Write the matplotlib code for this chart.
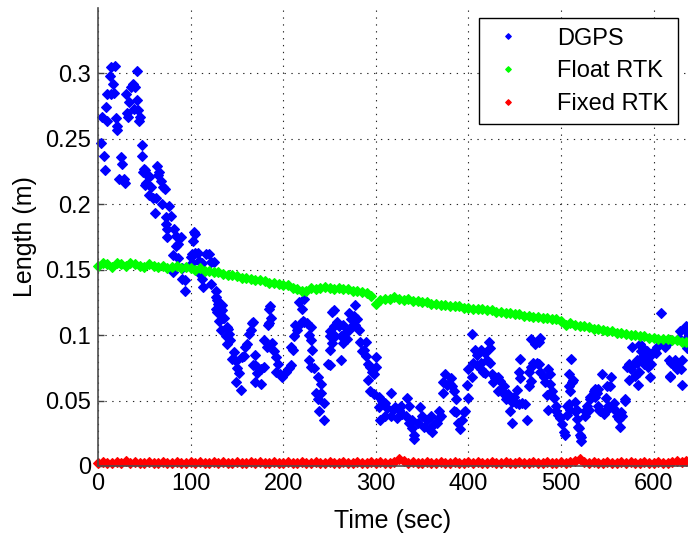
import numpy as np
import matplotlib
matplotlib.use("Agg")
import matplotlib.pyplot as plt

plt.rcParams['font.family'] = ['Liberation Sans', 'DejaVu Sans']

# DGPS samples (time s, length m)
dgps = [
    (3, 0.247), (4, 0.267), (7, 0.237), (8, 0.226), (9, 0.274), (10, 0.264), (10, 0.284), (13, 0.298),
    (14, 0.305), (14, 0.284), (16, 0.292), (17, 0.285), (18, 0.306), (19, 0.266), (20, 0.260), (21, 0.257),
    (23, 0.219), (25, 0.236), (26, 0.231), (28, 0.219), (29, 0.216), (30, 0.284), (31, 0.270), (32, 0.267),
    (34, 0.278), (36, 0.290), (38, 0.292), (39, 0.273), (40, 0.290), (42, 0.302), (42, 0.280), (43, 0.272),
    (44, 0.264), (45, 0.267), (47, 0.237), (48, 0.245), (49, 0.225), (50, 0.227), (51, 0.215), (51, 0.226),
    (52, 0.216), (54, 0.222), (55, 0.221), (55, 0.207), (57, 0.213), (59, 0.205), (62, 0.193), (63, 0.205),
    (64, 0.229), (65, 0.222), (66, 0.225), (68, 0.218), (69, 0.200), (70, 0.213), (72, 0.212), (73, 0.185),
    (73, 0.190), (75, 0.181), (75, 0.175), (77, 0.199), (79, 0.191), (81, 0.161), (81, 0.148), (82, 0.181),
    (84, 0.176), (84, 0.168), (86, 0.170), (86, 0.159), (90, 0.175), (91, 0.143), (91, 0.151), (94, 0.142),
    (94, 0.134), (100, 0.160), (102, 0.162), (102, 0.155), (103, 0.172), (104, 0.179), (105, 0.177), (105, 0.163),
    (108, 0.163), (109, 0.157), (110, 0.147), (112, 0.155), (112, 0.143), (113, 0.137), (117, 0.162), (120, 0.162),
    (122, 0.156), (122, 0.139), (125, 0.156), (127, 0.129), (127, 0.134), (127, 0.120), (128, 0.118), (129, 0.127),
    (130, 0.124), (131, 0.122), (131, 0.111), (132, 0.118), (133, 0.104), (134, 0.123), (134, 0.119), (135, 0.113),
    (136, 0.113), (138, 0.099), (139, 0.093), (139, 0.106), (140, 0.105), (141, 0.101), (142, 0.096), (145, 0.082),
    (147, 0.087), (149, 0.080), (149, 0.064), (150, 0.075), (152, 0.071), (154, 0.058), (156, 0.083), (158, 0.084),
    (159, 0.091), (161, 0.093), (163, 0.101), (165, 0.104), (166, 0.109), (167, 0.110), (167, 0.077), (169, 0.085),
    (169, 0.064), (170, 0.077), (172, 0.076), (172, 0.071), (176, 0.074), (176, 0.063), (179, 0.076), (179, 0.096),
    (183, 0.091), (184, 0.108), (185, 0.120), (185, 0.109), (186, 0.122), (187, 0.113), (188, 0.094), (190, 0.088),
    (192, 0.083), (192, 0.072), (194, 0.078), (196, 0.070), (199, 0.068), (203, 0.072), (206, 0.075), (208, 0.077),
    (208, 0.091), (210, 0.089), (212, 0.099), (213, 0.108), (215, 0.104), (217, 0.125), (219, 0.109), (220, 0.120),
    (221, 0.111), (222, 0.128), (222, 0.110), (226, 0.109), (228, 0.100), (228, 0.081), (230, 0.106), (230, 0.096),
    (230, 0.076), (231, 0.089), (233, 0.075), (235, 0.056), (237, 0.068), (237, 0.051), (239, 0.042), (241, 0.063),
    (241, 0.056), (244, 0.048), (244, 0.035), (248, 0.078), (250, 0.103), (250, 0.089), (251, 0.099), (251, 0.077),
    (253, 0.118), (253, 0.094), (255, 0.119), (255, 0.107), (256, 0.099), (258, 0.110), (260, 0.107), (262, 0.099),
    (262, 0.081), (264, 0.094), (265, 0.108), (267, 0.102), (269, 0.097), (271, 0.117), (271, 0.104), (273, 0.112),
    (274, 0.107), (276, 0.115), (278, 0.123), (278, 0.108), (280, 0.112), (282, 0.104), (283, 0.095), (285, 0.088),
    (287, 0.089), (289, 0.095), (289, 0.084), (291, 0.078), (292, 0.066), (294, 0.076), (294, 0.057), (296, 0.072),
    (298, 0.070), (298, 0.055), (300, 0.076), (300, 0.083), (303, 0.053), (303, 0.045), (305, 0.035), (307, 0.050),
    (310, 0.048), (310, 0.038), (312, 0.044), (316, 0.056), (316, 0.038), (318, 0.043), (321, 0.045), (323, 0.037),
    (325, 0.043), (327, 0.046), (328, 0.040), (332, 0.038), (334, 0.052), (336, 0.046), (336, 0.033), (339, 0.029),
    (339, 0.035), (341, 0.024), (341, 0.021), (346, 0.033), (348, 0.045), (350, 0.038), (352, 0.030), (355, 0.035),
    (357, 0.028), (359, 0.038), (361, 0.026), (363, 0.032), (366, 0.033), (368, 0.037), (368, 0.042), (370, 0.038),
    (372, 0.056), (373, 0.064), (375, 0.070), (377, 0.062), (380, 0.063), (381, 0.067), (382, 0.061), (384, 0.057),
    (384, 0.042), (386, 0.051), (387, 0.041), (389, 0.033), (391, 0.028), (393, 0.035), (395, 0.041), (396, 0.042),
    (398, 0.062), (400, 0.052), (400, 0.074), (404, 0.068), (404, 0.101), (405, 0.079), (407, 0.089), (409, 0.085),
    (409, 0.077), (413, 0.079), (414, 0.074), (414, 0.089), (416, 0.072), (418, 0.086), (418, 0.071), (420, 0.081),
    (422, 0.095), (423, 0.090), (423, 0.079), (425, 0.070), (427, 0.064), (429, 0.067), (432, 0.068), (432, 0.057),
    (434, 0.065), (436, 0.057), (438, 0.061), (439, 0.054), (441, 0.051), (443, 0.055), (445, 0.053), (445, 0.042),
    (447, 0.049), (447, 0.033), (449, 0.053), (451, 0.048), (452, 0.058), (454, 0.047), (454, 0.072), (456, 0.082),
    (456, 0.067), (458, 0.048), (461, 0.047), (463, 0.035), (465, 0.072), (465, 0.061), (467, 0.076), (467, 0.065),
    (468, 0.097), (470, 0.079), (472, 0.093), (474, 0.079), (476, 0.095), (476, 0.078), (477, 0.098), (477, 0.072),
    (481, 0.068), (483, 0.064), (485, 0.054), (486, 0.074), (486, 0.043), (488, 0.070), (488, 0.063), (490, 0.057),
    (492, 0.052), (494, 0.042), (495, 0.046), (497, 0.039), (499, 0.037), (501, 0.032), (503, 0.026), (504, 0.024),
    (506, 0.046), (506, 0.039), (508, 0.061), (509, 0.047), (509, 0.070), (510, 0.057), (510, 0.043), (511, 0.082),
    (512, 0.064), (513, 0.066), (515, 0.049), (515, 0.042), (517, 0.043), (517, 0.036), (518, 0.030), (519, 0.029),
    (520, 0.024), (522, 0.019), (522, 0.022), (526, 0.038), (526, 0.042), (528, 0.046), (530, 0.043), (531, 0.051),
    (531, 0.053), (535, 0.057), (535, 0.056), (537, 0.053), (537, 0.059), (539, 0.056), (540, 0.059), (540, 0.046),
    (541, 0.043), (542, 0.042), (544, 0.070), (546, 0.040), (546, 0.041), (548, 0.042), (548, 0.052), (550, 0.061),
    (551, 0.046), (553, 0.061), (554, 0.068), (556, 0.044), (557, 0.048), (559, 0.042), (560, 0.038), (562, 0.036),
    (564, 0.030), (565, 0.041), (566, 0.038), (569, 0.050), (569, 0.051), (571, 0.076), (573, 0.078), (573, 0.066),
    (575, 0.074), (576, 0.091), (578, 0.077), (580, 0.069), (582, 0.081), (582, 0.079), (583, 0.062), (584, 0.072),
    (585, 0.093), (586, 0.088), (587, 0.091), (588, 0.084), (589, 0.078), (590, 0.088), (592, 0.081), (593, 0.088),
    (594, 0.076), (595, 0.083), (596, 0.068), (597, 0.078), (598, 0.086), (601, 0.087), (602, 0.086), (603, 0.091),
    (608, 0.117), (610, 0.093), (612, 0.091), (614, 0.093), (616, 0.081), (618, 0.068), (618, 0.069), (619, 0.079),
    (621, 0.078), (623, 0.081), (625, 0.074), (625, 0.079), (627, 0.098), (628, 0.103), (629, 0.074), (630, 0.081),
    (631, 0.062), (634, 0.104), (635, 0.107), (636, 0.098), (636, 0.090),
]

# Float / Fixed RTK, one reading every 5 s
rtk_time = np.arange(0, 640, 5)
float_rtk = [
    0.153, 0.155, 0.154, 0.152, 0.155, 0.154, 0.153, 0.155, 0.154, 0.153, 0.152, 0.154, 0.153,
    0.152, 0.153, 0.151, 0.152, 0.153, 0.151, 0.152, 0.151,
    0.150, 0.151, 0.149, 0.149, 0.148, 0.148, 0.147, 0.146, 0.146, 0.145,
    0.144, 0.144, 0.143, 0.142, 0.142, 0.141, 0.140, 0.140, 0.139, 0.138,
    0.138, 0.136, 0.135, 0.134, 0.134, 0.136, 0.135, 0.136, 0.137, 0.136,
    0.135, 0.136, 0.135, 0.135, 0.134, 0.134, 0.133, 0.132, 0.130,
    0.124, 0.127, 0.128, 0.128, 0.129, 0.128, 0.127, 0.128, 0.126, 0.126, 0.125,
    0.125, 0.124, 0.124, 0.123, 0.123, 0.122, 0.122, 0.122, 0.121, 0.121,
    0.120, 0.120, 0.120, 0.119, 0.119, 0.118, 0.118, 0.117, 0.117, 0.116,
    0.116, 0.115, 0.115, 0.114, 0.114, 0.113, 0.113, 0.112, 0.112, 0.111,
    0.108, 0.109, 0.108, 0.107, 0.107, 0.106, 0.105, 0.105, 0.104, 0.103,
    0.103, 0.102, 0.102, 0.101, 0.100, 0.100, 0.099, 0.099, 0.098, 0.098,
    0.097, 0.097, 0.097, 0.096, 0.096, 0.095, 0.095,
]
fixed_rtk = [
    0.002, 0.003, 0.002, 0.002, 0.003, 0.002, 0.004, 0.002, 0.003, 0.002, 0.002, 0.003, 0.002,
    0.002, 0.003, 0.002, 0.002, 0.003, 0.002, 0.002, 0.003,
    0.002, 0.003, 0.002, 0.002, 0.003, 0.002, 0.003, 0.002, 0.002, 0.003,
    0.002, 0.002, 0.003, 0.002, 0.003, 0.002, 0.002, 0.003, 0.002, 0.002,
    0.003, 0.002, 0.002, 0.003, 0.002, 0.002, 0.003, 0.002, 0.002, 0.003,
    0.002, 0.002, 0.003, 0.002, 0.002, 0.003, 0.002, 0.002, 0.003,
    0.002, 0.003, 0.002, 0.002, 0.003, 0.005, 0.004, 0.002, 0.003, 0.002, 0.002,
    0.003, 0.002, 0.002, 0.003, 0.002, 0.002, 0.003, 0.002, 0.002, 0.003,
    0.002, 0.003, 0.002, 0.002, 0.003, 0.002, 0.002, 0.003, 0.002, 0.002,
    0.003, 0.002, 0.002, 0.003, 0.002, 0.002, 0.003, 0.002, 0.002, 0.003,
    0.002, 0.003, 0.004, 0.005, 0.003, 0.002, 0.003, 0.002, 0.002, 0.003,
    0.002, 0.002, 0.003, 0.002, 0.003, 0.002, 0.002, 0.003, 0.002, 0.002,
    0.003, 0.002, 0.002, 0.003, 0.004, 0.003, 0.004,
]

x_ticks = [0, 100, 200, 300, 400, 500, 600]
y_ticks = [0, 0.05, 0.1, 0.15, 0.2, 0.25, 0.3]
y_labels = ['0', '0.05', '0.1', '0.15', '0.2', '0.25', '0.3']

dgps_time = [p[0] for p in dgps]
dgps_len = [p[1] for p in dgps]

fig = plt.figure(figsize=(6.88, 5.38), dpi=100)
ax = fig.add_axes([98 / 688, 1 - 466 / 538, 590 / 688, 458 / 538])

ms = 5.3
ax.plot(dgps_time, dgps_len, 'D', color=(0, 0, 1), ms=ms, mew=0.8, clip_on=False, label='DGPS')
ax.plot(rtk_time, float_rtk, 'D', color=(0, 1, 0), ms=ms, mew=0.8, clip_on=False, label='Float RTK')
ax.plot(rtk_time, fixed_rtk, 'D', color=(1, 0, 0), ms=ms, mew=0.8, clip_on=False, label='Fixed RTK')

ax.set_xlim(0, 637)
ax.set_ylim(0, 0.35)
ax.set_xticks(x_ticks)
ax.set_yticks(y_ticks)
ax.set_yticklabels(y_labels)
ax.tick_params(direction='in', length=4, width=1, labelsize=17, pad=5, color='0.25')
ax.grid(True, color='0.15', linestyle=(0, (1.2, 5)), linewidth=0.8)
ax.set_axisbelow(True)
for s in ['top', 'right']:
    ax.spines[s].set_visible(False)
for s in ['left', 'bottom']:
    ax.spines[s].set_color('0.3')
    ax.spines[s].set_linewidth(1.2)

ax.set_xlabel('Time (sec)', fontsize=18, labelpad=10)
ax.set_ylabel('Length (m)', fontsize=18, labelpad=6)

leg = ax.legend(loc='upper right', bbox_to_anchor=(0.983, 0.978), borderaxespad=0,
                fontsize=17, fancybox=False, framealpha=1, edgecolor='k',
                handlelength=1.6, handletextpad=1.3, labelspacing=0.45, borderpad=0.4,
                markerscale=0.55)
leg.get_frame().set_linewidth(1.0)

fig.savefig('out.png', dpi=100)
